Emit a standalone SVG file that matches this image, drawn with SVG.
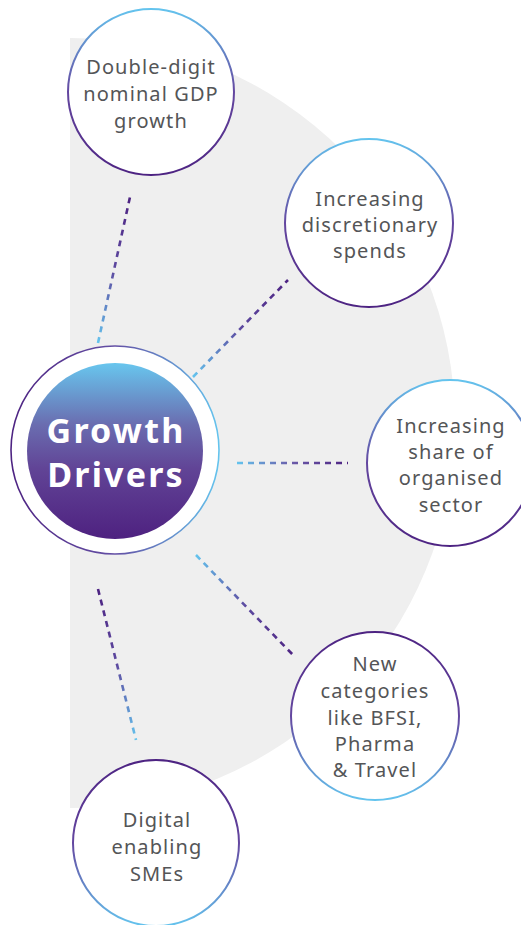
<svg xmlns="http://www.w3.org/2000/svg" width="521" height="925" viewBox="0 0 521 925">
<defs>
<linearGradient id="gBP" x1="0" y1="0" x2="0" y2="1"><stop offset="0" stop-color="#64c4ee"/><stop offset="0.5" stop-color="#6447a0"/><stop offset="1" stop-color="#4d2382"/></linearGradient>
<linearGradient id="gPB" x1="0" y1="0" x2="0" y2="1"><stop offset="0" stop-color="#4d2382"/><stop offset="0.5" stop-color="#6447a0"/><stop offset="1" stop-color="#64c4ee"/></linearGradient>
<linearGradient id="gRing" x1="0" y1="0" x2="1" y2="0"><stop offset="0" stop-color="#4d2382"/><stop offset="0.5" stop-color="#6450a5"/><stop offset="1" stop-color="#64c4ee"/></linearGradient>
<linearGradient id="gDisc" x1="0" y1="0" x2="0" y2="1"><stop offset="0" stop-color="#68c6ee"/><stop offset="0.35" stop-color="#6a6db0"/><stop offset="0.6" stop-color="#614496"/><stop offset="1" stop-color="#4e2180"/></linearGradient>
<linearGradient id="l1" gradientUnits="userSpaceOnUse" x1="98" y1="343" x2="130" y2="197"><stop offset="0" stop-color="#64c4ee"/><stop offset="0.5" stop-color="#5d4aa0"/><stop offset="1" stop-color="#4d2382"/></linearGradient>
<linearGradient id="l2" gradientUnits="userSpaceOnUse" x1="193" y1="377" x2="288" y2="280"><stop offset="0" stop-color="#64c4ee"/><stop offset="0.5" stop-color="#5d4aa0"/><stop offset="1" stop-color="#4d2382"/></linearGradient>
<linearGradient id="l3" gradientUnits="userSpaceOnUse" x1="237" y1="463" x2="348" y2="463"><stop offset="0" stop-color="#64c4ee"/><stop offset="0.5" stop-color="#6a5aa8"/><stop offset="1" stop-color="#4d2382"/></linearGradient>
<linearGradient id="l4" gradientUnits="userSpaceOnUse" x1="196" y1="555" x2="295" y2="657"><stop offset="0" stop-color="#64c4ee"/><stop offset="0.5" stop-color="#5d4aa0"/><stop offset="1" stop-color="#4d2382"/></linearGradient>
<linearGradient id="l5" gradientUnits="userSpaceOnUse" x1="98" y1="589" x2="136" y2="740"><stop offset="0" stop-color="#4d2382"/><stop offset="0.5" stop-color="#5d4aa0"/><stop offset="1" stop-color="#64c4ee"/></linearGradient>
</defs>
<style>
.node{fill:#ffffff;stroke-width:2}
.lbl{font-family:"Noto Sans",Arial,sans-serif;font-size:20px;fill:#545557;text-anchor:middle;letter-spacing:1.1px}
.ttl{font-family:"Noto Sans",Arial,sans-serif;font-weight:bold;font-size:34px;fill:#ffffff;text-anchor:middle;letter-spacing:2.2px}
.dash{fill:none;stroke-width:2.6;stroke-dasharray:6 5}
</style>
<path id="bg" d="M70,38 A385,385 0 0 1 70,808 Z" fill="#efefef"/>
<g id="connectors">
<line class="dash" x1="98" y1="343" x2="130" y2="197" stroke="url(#l1)"/>
<line class="dash" x1="193" y1="377" x2="288" y2="280" stroke="url(#l2)"/>
<line class="dash" x1="237" y1="463" x2="348" y2="463" stroke="url(#l3)"/>
<line class="dash" x1="196" y1="555" x2="295" y2="657" stroke="url(#l4)"/>
<line class="dash" x1="98" y1="589" x2="136" y2="740" stroke="url(#l5)"/>
</g>
<g id="center">
<circle cx="115" cy="450" r="104" fill="#ffffff" stroke="url(#gRing)" stroke-width="1.6"/>
<circle cx="115" cy="451" r="88" fill="url(#gDisc)"/>
<text class="ttl" x="116" y="443">Growth</text>
<text class="ttl" x="116" y="487">Drivers</text>
</g>
<g id="n1">
<circle class="node" cx="151" cy="92" r="83" stroke="url(#gBP)"/>
<text class="lbl" x="151" y="74">Double-digit</text>
<text class="lbl" x="151" y="101">nominal GDP</text>
<text class="lbl" x="151" y="128">growth</text>
</g>
<g id="n2">
<circle class="node" cx="369" cy="223" r="84" stroke="url(#gBP)"/>
<text class="lbl" x="370" y="206">Increasing</text>
<text class="lbl" x="370" y="232">discretionary</text>
<text class="lbl" x="370" y="258">spends</text>
</g>
<g id="n3">
<circle class="node" cx="450" cy="463" r="83" stroke="url(#gBP)"/>
<text class="lbl" x="451" y="433">Increasing</text>
<text class="lbl" x="451" y="459">share of</text>
<text class="lbl" x="451" y="485">organised</text>
<text class="lbl" x="451" y="512">sector</text>
</g>
<g id="n4">
<circle class="node" cx="375" cy="716" r="84" stroke="url(#gPB)"/>
<text class="lbl" x="375" y="671">New</text>
<text class="lbl" x="375" y="698">categories</text>
<text class="lbl" x="375" y="725">like BFSI,</text>
<text class="lbl" x="375" y="751">Pharma</text>
<text class="lbl" x="375" y="777">&amp; Travel</text>
</g>
<g id="n5">
<circle class="node" cx="156" cy="843" r="83" stroke="url(#gPB)"/>
<text class="lbl" x="157" y="827">Digital</text>
<text class="lbl" x="157" y="854">enabling</text>
<text class="lbl" x="157" y="881">SMEs</text>
</g>
</svg>
